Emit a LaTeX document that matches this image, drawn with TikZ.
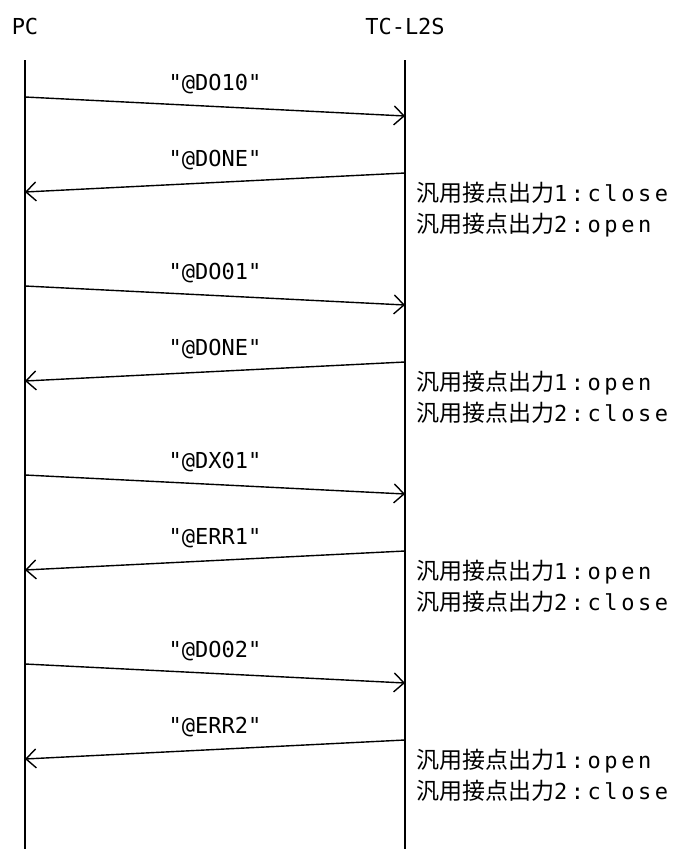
\documentclass[tikz,border=0pt]{standalone}
\usepackage{fontspec}
\setmainfont{DejaVu Sans Mono}[Ligatures=TeXOff]
\newfontfamily\widemono{DejaVu Sans Mono}[LetterSpace=16.0,Ligatures=TeXOff]
\newfontfamily\cjk{Noto Sans CJK JP}
\usetikzlibrary{arrows.meta}
\newcommand{\gp}{{\cjk\fontsize{23}{26}\selectfont 汎用接点出力}}
\begin{document}
\begin{tikzpicture}[x=1pt,y=-1pt,
    life/.style={line width=1.4pt},
    msg/.style={line width=1.4pt,-{Straight Barb[length=10pt,width=19pt,line width=1.4pt]}},
    lbl/.style={anchor=base,inner sep=0pt,font=\fontsize{22}{26}\selectfont},
    state/.style={anchor=base west,inner sep=0pt,font=\fontsize{22}{26}\selectfont\widemono}]
    \useasboundingbox (0,0) rectangle (674,849);
    \node[lbl] (pc) at (25,34) {PC};
    \node[lbl] (tc) at (405,34) {TC-L2S};
    \coordinate (pctop) at (25,60);
    \coordinate (pcbot) at (25,849);
    \coordinate (tctop) at (405,60);
    \coordinate (tcbot) at (405,849);
    \draw[life] (pctop) -- (pcbot);
    \draw[life] (tctop) -- (tcbot);
    \coordinate (a1) at (25,97);  \coordinate (b1) at (405,116);
    \coordinate (a2) at (405,173); \coordinate (b2) at (25,192);
    \coordinate (a3) at (25,286); \coordinate (b3) at (405,305);
    \coordinate (a4) at (405,362); \coordinate (b4) at (25,381);
    \coordinate (a5) at (25,475); \coordinate (b5) at (405,494);
    \coordinate (a6) at (405,551); \coordinate (b6) at (25,570);
    \coordinate (a7) at (25,664); \coordinate (b7) at (405,683);
    \coordinate (a8) at (405,740); \coordinate (b8) at (25,759);
    \draw[msg] (a1) -- (b1);
    \draw[msg] (a2) -- (b2);
    \draw[msg] (a3) -- (b3);
    \draw[msg] (a4) -- (b4);
    \draw[msg] (a5) -- (b5);
    \draw[msg] (a6) -- (b6);
    \draw[msg] (a7) -- (b7);
    \draw[msg] (a8) -- (b8);
    \node[lbl] (m1) at (215,90) {"@DO10"};
    \node[lbl] (m2) at (215,166) {"@DONE"};
    \node[lbl] (m3) at (215,279) {"@DO01"};
    \node[lbl] (m4) at (215,355) {"@DONE"};
    \node[lbl] (m5) at (215,468) {"@DX01"};
    \node[lbl] (m6) at (215,544) {"@ERR1"};
    \node[lbl] (m7) at (215,657) {"@DO02"};
    \node[lbl] (m8) at (215,733) {"@ERR2"};
    \node[state] (s1a) at (416,201) {\gp1:close};
    \node[state] (s1b) at (416,232) {\gp2:open};
    \node[state] (s2a) at (416,390) {\gp1:open};
    \node[state] (s2b) at (416,421) {\gp2:close};
    \node[state] (s3a) at (416,579) {\gp1:open};
    \node[state] (s3b) at (416,610) {\gp2:close};
    \node[state] (s4a) at (416,768) {\gp1:open};
    \node[state] (s4b) at (416,799) {\gp2:close};
\end{tikzpicture}
\end{document}
